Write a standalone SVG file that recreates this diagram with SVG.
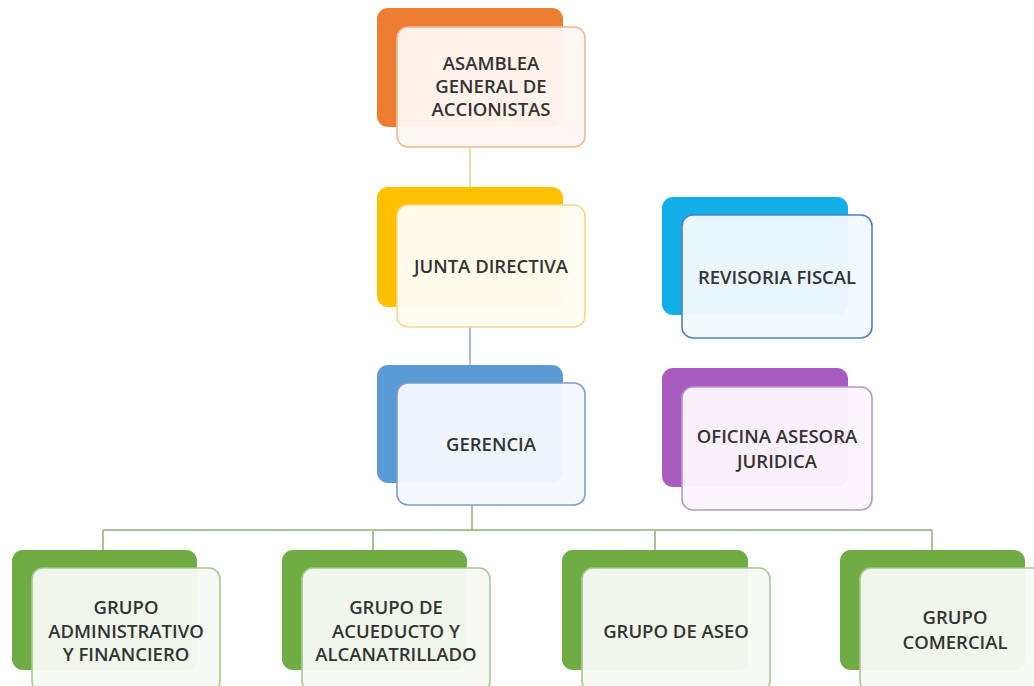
<svg xmlns="http://www.w3.org/2000/svg" width="1034" height="686" viewBox="0 0 1034 686">
<style>
.back{stroke:none}
.front{stroke-width:1.6;fill-opacity:0.96}
.lbl{font-family:"Open Sans","Liberation Sans",sans-serif;font-size:18.5px;font-weight:600;fill:#333333;text-anchor:middle}
.con{fill:none;stroke-width:2}
</style>
<rect width="1034" height="686" fill="#ffffff"/>
<g id="connectors">
<line class="con" x1="470" y1="147" x2="470" y2="206" stroke="#F2D9A6"/>
<line class="con" x1="470" y1="327" x2="470" y2="366" stroke="#A7BCD2"/>
<path class="con" d="M472 505 V530 M103 530 H932 M103 530 V551 M373 530 V551 M655 530 V551 M932 530 V551" stroke="#A9C394"/>
</g>
<g id="asamblea">
<rect class="back" x="377" y="8" width="186" height="119" rx="11" fill="#ED7D31"/>
<rect class="front" x="397" y="27" width="188" height="120" rx="11" fill="#FEF7F3" stroke="#F3B692"/>
<text class="lbl" x="491" y="70">ASAMBLEA</text>
<text class="lbl" x="491" y="93">GENERAL DE</text>
<text class="lbl" x="491" y="116">ACCIONISTAS</text>
</g>
<g id="junta">
<rect class="back" x="377" y="187" width="186" height="120" rx="11" fill="#FFC000"/>
<rect class="front" x="397" y="205" width="188" height="122" rx="11" fill="#FFFCF2" stroke="#F4D98E"/>
<text class="lbl" x="491" y="273">JUNTA DIRECTIVA</text>
</g>
<g id="gerencia">
<rect class="back" x="377" y="365" width="186" height="118" rx="11" fill="#5B9BD5"/>
<rect class="front" x="397" y="383" width="188" height="122" rx="11" fill="#F5F8FC" stroke="#7E9FCB"/>
<text class="lbl" x="491" y="451">GERENCIA</text>
</g>
<g id="revisoria">
<rect class="back" x="662" y="197" width="186" height="118" rx="11" fill="#12AEE8"/>
<rect class="front" x="682" y="215" width="190" height="123" rx="11" fill="#F2FAFE" stroke="#4E82BE"/>
<text class="lbl" x="777" y="284">REVISORIA FISCAL</text>
</g>
<g id="oficina">
<rect class="back" x="662" y="368" width="186" height="119" rx="11" fill="#A95CC0"/>
<rect class="front" x="682" y="387" width="190" height="123" rx="11" fill="#FBF6FC" stroke="#B896CC"/>
<text class="lbl" x="777" y="443">OFICINA ASESORA</text>
<text class="lbl" x="777" y="468">JURIDICA</text>
</g>
<g id="grupo-admin">
<rect class="back" x="12" y="550" width="185" height="120" rx="11" fill="#6FAC44"/>
<rect class="front" x="32" y="568" width="188" height="124" rx="11" fill="#F6F9F4" stroke="#A8C98E"/>
<text class="lbl" x="126" y="614">GRUPO</text>
<text class="lbl" x="126" y="638">ADMINISTRATIVO</text>
<text class="lbl" x="126" y="661">Y FINANCIERO</text>
</g>
<g id="grupo-acueducto">
<rect class="back" x="282" y="550" width="185" height="120" rx="11" fill="#6FAC44"/>
<rect class="front" x="302" y="568" width="188" height="124" rx="11" fill="#F6F9F4" stroke="#A8C98E"/>
<text class="lbl" x="396" y="614">GRUPO DE</text>
<text class="lbl" x="396" y="638">ACUEDUCTO Y</text>
<text class="lbl" x="396" y="661">ALCANATRILLADO</text>
</g>
<g id="grupo-aseo">
<rect class="back" x="562" y="550" width="186" height="120" rx="11" fill="#6FAC44"/>
<rect class="front" x="582" y="568" width="188" height="124" rx="11" fill="#F6F9F4" stroke="#A8C98E"/>
<text class="lbl" x="676" y="638">GRUPO DE ASEO</text>
</g>
<g id="grupo-comercial">
<rect class="back" x="840" y="550" width="185" height="120" rx="11" fill="#6FAC44"/>
<rect class="front" x="860" y="568" width="190" height="124" rx="11" fill="#F6F9F4" stroke="#A8C98E"/>
<text class="lbl" x="955" y="624">GRUPO</text>
<text class="lbl" x="955" y="649">COMERCIAL</text>
</g>
</svg>
